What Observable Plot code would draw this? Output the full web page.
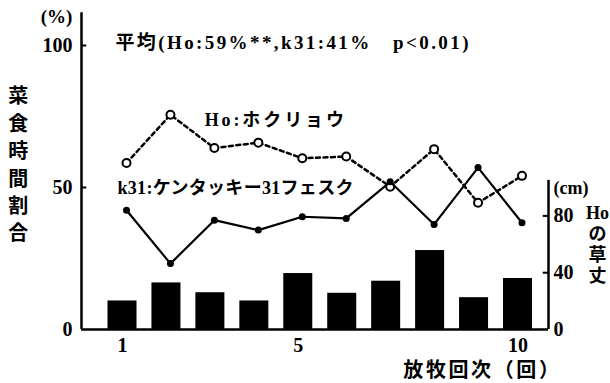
<!DOCTYPE html>
<html><head><meta charset="utf-8">
<script src="https://cdn.jsdelivr.net/npm/d3@7"></script>
<script src="https://cdn.jsdelivr.net/npm/@observablehq/plot@0.6"></script>
<style>body{margin:0;background:#fff}</style>
</head><body><div id="chart"></div>
<script>
// 放牧回次
const rounds = [1, 2, 3, 4, 5, 6, 7, 8, 9, 10];
// 菜食時間割合 (%)
const hoShare = [58.6, 75.6, 63.9, 65.8, 60.3, 60.9, 50.3, 63.5, 44.6, 54.1];
const k31Share = [42.0, 23.2, 38.5, 35.0, 39.7, 39.1, 52.0, 37.0, 57.0, 37.6];
// Ho の草丈 (cm)
const hoHeightCm = [20.1, 32.8, 25.9, 20.1, 39.4, 25.5, 34.0, 55.6, 22.4, 35.9];
// ticks
const leftTicks = [0, 50, 100];
const rightTicksCm = [0, 40, 80];
const xTicks = [1, 5, 10];
// texts
const titleText = "平均(Ho:59%**,k31:41%\u00a0\u00a0\u00a0p<0.01)";
const hoLabel = "Ho:ホクリョウ";
const k31Label = "k31:ケンタッキー31フェスク";
const yLabel = "菜食時間割合";
const rightLabel = ["Ho", "の", "草", "丈"];
const xLabel = "放牧回次（回）";

const ho = rounds.map((x, i) => ({x, v: hoShare[i]}));
const k31 = rounds.map((x, i) => ({x, v: k31Share[i]}));
const bars = rounds.map((x, i) => ({x, cm: hoHeightCm[i]}));
const cmToPct = 0.5; // right axis: 80 cm sits at 40 %

const xMin = 0.067, xMax = 10.694;
const font = '"Liberation Serif","Noto Sans CJK JP",serif';

const chart = Plot.plot({
  width: 610, height: 383,
  marginLeft: 81, marginRight: 62, marginTop: 45, marginBottom: 54,
  style: {fontFamily: font, fontSize: "18px", color: "#000", background: "#fff"},
  x: {type: "linear", domain: [xMin, xMax]},
  y: {domain: [0, 100]},
  marks: [
    Plot.rect(bars, {x1: d => d.x - 0.33, x2: d => d.x + 0.33, y1: 0, y2: d => d.cm * cmToPct, fill: "#000"}),
    Plot.ruleY([0], {strokeWidth: 2.5}),
    Plot.ruleX([xMin], {y1: 0, y2: 111.5, strokeWidth: 2.5}),
    Plot.ruleX([xMax], {y1: 0, y2: 52.5, strokeWidth: 2.5}),
    Plot.ruleY(leftTicks.slice(1), {x1: xMin, x2: xMin + 0.12, strokeWidth: 2}),
    Plot.ruleY(rightTicksCm.slice(1).map(v => v * cmToPct), {x1: xMax - 0.12, x2: xMax, strokeWidth: 2}),
    Plot.axisY({ticks: leftTicks, tickSize: 0, tickPadding: 9, fontSize: 20, fontWeight: "bold", label: null}),
    Plot.axisY({anchor: "right", ticks: rightTicksCm.map(v => v * cmToPct), tickFormat: d => d / cmToPct, tickSize: 0, tickPadding: 5, fontSize: 20, fontWeight: "bold", label: null}),
    Plot.axisX({ticks: xTicks, tickSize: 0, tickPadding: 8, fontSize: 20, fontWeight: "bold", label: null}),
    Plot.line(ho, {x: "x", y: "v", stroke: "#000", strokeWidth: 2.5, strokeDasharray: "4,3.5", dx: 4}),
    Plot.dot(ho, {x: "x", y: "v", r: 4, fill: "#fff", stroke: "#000", strokeWidth: 2, dx: 4}),
    Plot.line(k31, {x: "x", y: "v", stroke: "#000", strokeWidth: 2.2, dx: 4}),
    Plot.dot(k31, {x: "x", y: "v", r: 3.5, fill: "#000", dx: 4}),
    Plot.text([titleText], {x: 0.84, y: 100.8, textAnchor: "start", fontSize: 19, fontWeight: "bold"}),
    Plot.text([hoLabel], {x: 2.87, y: 73.6, textAnchor: "start", fontSize: 18, fontWeight: "bold"}),
    Plot.text([k31Label], {x: 0.886, y: 49.6, textAnchor: "start", fontSize: 18, fontWeight: "bold"}),
    Plot.text([yLabel.split("").join("\n")], {x: -1.37, y: 58.6, fontSize: 20, lineHeight: 1.37, fontWeight: "bold"}),
    Plot.text(["(%)"], {x: -0.5, y: 110.2, fontSize: 19, fontWeight: "bold"}),
    Plot.text(["(cm)"], {x: 10.81, y: 49.6, textAnchor: "start", fontSize: 18, fontWeight: "bold"}),
    Plot.text([rightLabel.join("\n")], {x: 11.81, y: 30.1, fontSize: 18, lineHeight: 1.17, fontWeight: "bold"}),
    Plot.text([xLabel], {x: 7.39, y: -14.4, textAnchor: "start", fontSize: 20, fontWeight: "bold"})
  ]
});
const spacing = new Map([[titleText, 2.4], [hoLabel, 2.9], [xLabel, 2.6], [k31Label, 0.3]]);
d3.select(chart).selectAll("text").each(function () {
  const s = spacing.get(this.textContent);
  if (s != null) this.setAttribute("letter-spacing", s);
});
document.getElementById("chart").append(chart);
</script>
</body></html>
